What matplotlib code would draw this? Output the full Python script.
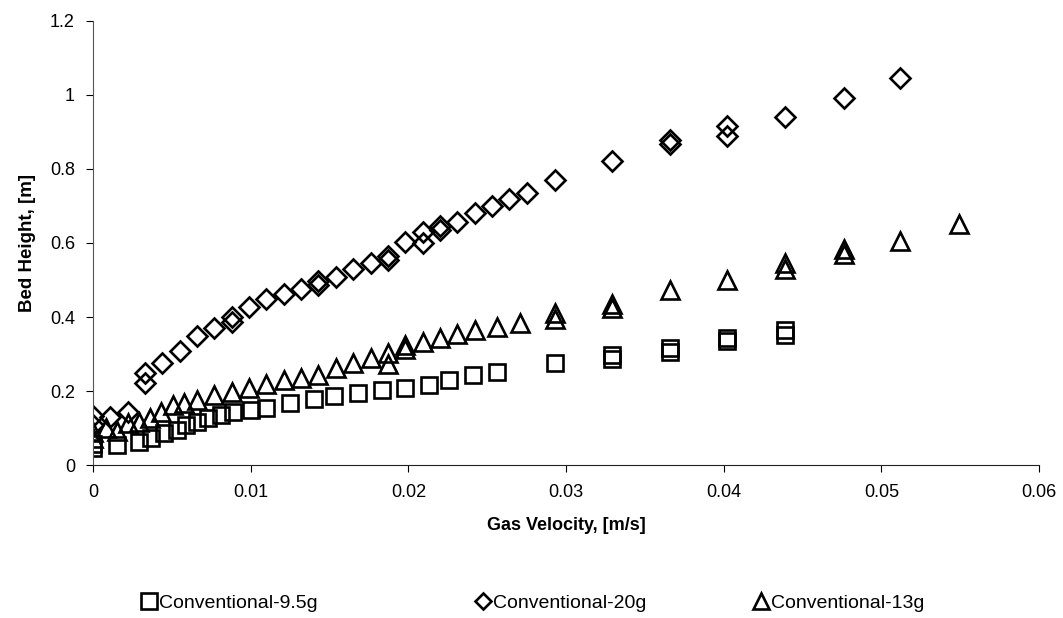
import matplotlib
matplotlib.use('Agg')
import matplotlib.pyplot as plt
from matplotlib.lines import Line2D

plt.rcParams['font.family'] = ['Liberation Sans', 'DejaVu Sans']

# Conventional-9.5g (squares)
x_95 = [0.0, 0.0, 0.0015, 0.0029, 0.0037, 0.0045, 0.0053, 0.0059, 0.0066, 0.0073,
        0.0081, 0.0089, 0.0100, 0.0110, 0.0125, 0.0140, 0.0153, 0.0168, 0.0183,
        0.0198, 0.0213, 0.0226, 0.0241, 0.0256, 0.0293, 0.0329, 0.0329, 0.0366,
        0.0366, 0.0402, 0.0402, 0.0439, 0.0439]
y_95 = [0.046, 0.058, 0.055, 0.062, 0.073, 0.087, 0.096, 0.109, 0.118, 0.127,
        0.136, 0.145, 0.150, 0.155, 0.169, 0.180, 0.188, 0.196, 0.203,
        0.209, 0.218, 0.231, 0.243, 0.253, 0.276, 0.287, 0.298, 0.306,
        0.316, 0.336, 0.345, 0.352, 0.366]

# Conventional-20g (diamonds)
x_20 = [0.0, 0.0, 0.0011, 0.0022, 0.0033, 0.0033, 0.0044, 0.0055, 0.0066, 0.0077,
        0.0088, 0.0088, 0.0099, 0.0110, 0.0121, 0.0132, 0.0143, 0.0143, 0.0154,
        0.0165, 0.0176, 0.0187, 0.0187, 0.0198, 0.0209, 0.0209, 0.0220, 0.0220,
        0.0231, 0.0242, 0.0253, 0.0264, 0.0275, 0.0293, 0.0329, 0.0366, 0.0366,
        0.0402, 0.0402, 0.0439, 0.0476, 0.0512]
y_20 = [0.110, 0.134, 0.132, 0.145, 0.222, 0.249, 0.276, 0.309, 0.350, 0.370,
        0.388, 0.401, 0.427, 0.448, 0.462, 0.475, 0.488, 0.498, 0.509,
        0.529, 0.545, 0.555, 0.566, 0.604, 0.599, 0.630, 0.635, 0.645,
        0.656, 0.682, 0.700, 0.720, 0.735, 0.770, 0.821, 0.868, 0.878,
        0.889, 0.916, 0.941, 0.992, 1.045]

# Conventional-13g (triangles)
x_13 = [0.0, 0.0, 0.0008, 0.0015, 0.0022, 0.0029, 0.0036, 0.0043, 0.0051, 0.0058,
        0.0066, 0.0077, 0.0088, 0.0099, 0.0110, 0.0121, 0.0132, 0.0143, 0.0154,
        0.0165, 0.0176, 0.0187, 0.0187, 0.0198, 0.0198, 0.0209, 0.0220, 0.0231,
        0.0242, 0.0256, 0.0271, 0.0293, 0.0293, 0.0329, 0.0329, 0.0366, 0.0402,
        0.0439, 0.0439, 0.0476, 0.0476, 0.0512, 0.0549]
y_13 = [0.075, 0.090, 0.100, 0.092, 0.114, 0.118, 0.127, 0.145, 0.163, 0.169,
        0.177, 0.190, 0.199, 0.208, 0.220, 0.231, 0.235, 0.244, 0.262,
        0.276, 0.289, 0.274, 0.303, 0.315, 0.325, 0.334, 0.343, 0.355,
        0.365, 0.374, 0.383, 0.395, 0.410, 0.425, 0.435, 0.473, 0.500,
        0.530, 0.545, 0.570, 0.585, 0.606, 0.652]

LABELS = ['Conventional-9.5g', 'Conventional-20g', 'Conventional-13g']
X_TICKS = [0, 0.01, 0.02, 0.03, 0.04, 0.05, 0.06]
Y_TICKS = [0, 0.2, 0.4, 0.6, 0.8, 1.0, 1.2]

fig = plt.figure(figsize=(10.63, 6.18), dpi=100)
ax = fig.add_axes([0.0875, 0.2468, 0.89, 0.72])

style = dict(linestyle='none', markerfacecolor='none', markeredgecolor='black', markeredgewidth=1.9)
ax.plot(x_95, y_95, marker='s', markersize=11.5, **style)
ax.plot(x_20, y_20, marker='D', markersize=10, **style)
ax.plot(x_13, y_13, marker='^', markersize=12.5, **style)

ax.set_xlim(0, 0.06)
ax.set_ylim(0, 1.2)
ax.set_xticks(X_TICKS)
ax.set_xticklabels(['0', '0.01', '0.02', '0.03', '0.04', '0.05', '0.06'])
ax.set_yticks(Y_TICKS)
ax.set_yticklabels(['0', '0.2', '0.4', '0.6', '0.8', '1', '1.2'])
ax.tick_params(direction='out', length=5, width=0.8, labelsize=13, pad=8)
ax.spines['right'].set_visible(False)
ax.spines['top'].set_visible(False)
ax.spines['left'].set_color('#555555')
ax.spines['bottom'].set_color('#222222')

ax.set_xlabel('Gas Velocity, [m/s]', fontsize=13, fontweight='bold', labelpad=12)
ax.set_ylabel('Bed Height, [m]', fontsize=13.5, fontweight='bold', labelpad=10)

markers = ['s', 'D', '^']
sizes = [11, 8, 11]
legend_x = [0.133, 0.447, 0.709]
for m, s, lab, lx in zip(markers, sizes, LABELS, legend_x):
    h = Line2D([], [], marker=m, markersize=s, **style)
    fig.legend(handles=[h], labels=[lab], loc='center left', bbox_to_anchor=(lx, 0.024),
               frameon=False, fontsize=14, handlelength=0.8, handletextpad=0.1,
               borderpad=0, borderaxespad=0)

fig.savefig('out.png', dpi=100)
